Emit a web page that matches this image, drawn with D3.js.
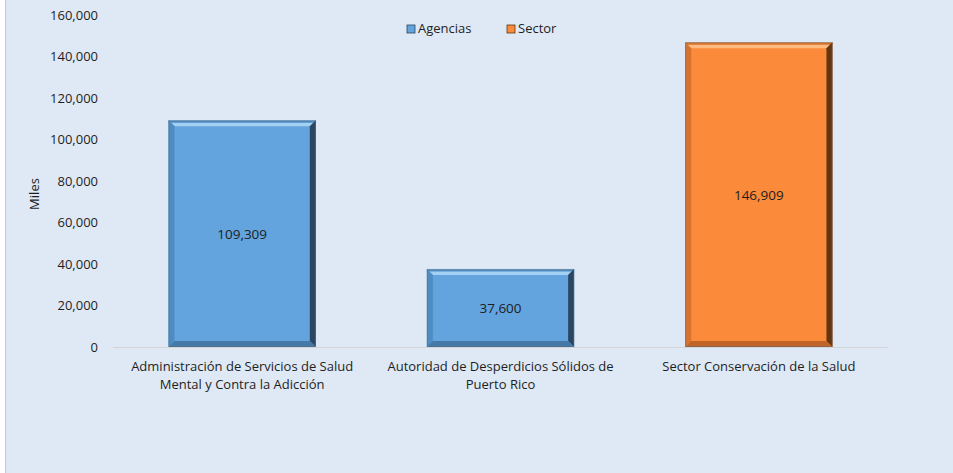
<!DOCTYPE html>
<html>
<head>
<meta charset="utf-8">
<script src="https://cdn.jsdelivr.net/npm/d3@7"></script>
<style>
  body { margin: 0; background: #ffffff; }
  text { font-family: "Open Sans", "Noto Sans", sans-serif; fill: #1e1e1e; }
</style>
</head>
<body>
<div id="chart-area"></div>
<script>
// Chart values
let categories = [
  ["Administración de Servicios de Salud", "Mental y Contra la Adicción"],
  ["Autoridad de Desperdicios Sólidos de", "Puerto Rico"],
  ["Sector Conservación de la Salud"]
];
let values = [109309, 37600, 146909];
let seriesOf = ["Agencias", "Agencias", "Sector"];
let legendItems = ["Agencias", "Sector"];
let yTicks = [0, 20000, 40000, 60000, 80000, 100000, 120000, 140000, 160000];

let width = 953, height = 473;

let colors = {
  Agencias: {fill: "#63a4de", light: "#a4d0f4", dark: "#2a4660", left: "#4f8cc2", bottom: "#4579a8"},
  Sector: {fill: "#fb8a3a", light: "#fdbb80", dark: "#633511", left: "#d8732e", bottom: "#c06527"}
};

let svg = d3.select("#chart-area")
  .append("svg")
  .attr("width", width)
  .attr("height", height);

// Background panel with thin left border
svg.append("rect")
  .attr("x", 6).attr("y", 0)
  .attr("width", width - 6).attr("height", height)
  .attr("fill", "#dee9f5");
svg.append("line")
  .attr("x1", 5.5).attr("x2", 5.5)
  .attr("y1", 0).attr("y2", height)
  .attr("stroke", "#c8c8c8").attr("stroke-width", 1);

// Scales
let x = d3.scaleBand()
  .domain(d3.range(values.length))
  .range([113, 888])
  .paddingInner(0.43)
  .paddingOuter(0.215);

let y = d3.scaleLinear()
  .domain([0, 160000])
  .range([347, 15]);

// Y axis (labels only)
let yAxis = d3.axisLeft(y)
  .tickValues(yTicks)
  .tickFormat(d3.format(","))
  .tickSize(0)
  .tickPadding(0);

let yAxisGroup = svg.append("g")
  .attr("transform", "translate(98,0)")
  .call(yAxis);
yAxisGroup.select(".domain").remove();
yAxisGroup.selectAll("text")
  .style("font-size", "13px")
  .style("font-family", "'Open Sans', sans-serif")
  .attr("fill", "#1e1e1e");

svg.append("text")
  .text("Miles")
  .attr("transform", "translate(39," + ((y(0) + y(160000)) / 2 + 13) + ") rotate(-90)")
  .attr("text-anchor", "middle")
  .style("font-size", "13px");

// Baseline
svg.append("line")
  .attr("x1", 113).attr("x2", 888)
  .attr("y1", y(0) + 0.5).attr("y2", y(0) + 0.5)
  .attr("stroke", "#d4d4d4");

// Bars with bevel edges
let bev = 6;
let bars = svg.selectAll(".bar")
  .data(values)
  .enter()
  .append("g")
  .attr("class", "bar");

bars.each(function(d, i) {
  let g = d3.select(this);
  let c = colors[seriesOf[i]];
  let x0 = x(i), x1 = x(i) + x.bandwidth();
  let y0 = y(d), y1 = y(0);
  g.append("rect")
    .attr("x", x0).attr("y", y0)
    .attr("width", x1 - x0).attr("height", y1 - y0)
    .attr("fill", c.fill);
  // top
  g.append("polygon")
    .attr("points", [[x0, y0], [x1, y0], [x1 - bev, y0 + bev], [x0 + bev, y0 + bev]].join(" "))
    .attr("fill", c.light);
  g.append("line")
    .attr("x1", x0).attr("x2", x1)
    .attr("y1", y0 + 1.5).attr("y2", y0 + 1.5)
    .attr("stroke", c.left).attr("stroke-width", 2);
  // left
  g.append("polygon")
    .attr("points", [[x0, y0], [x0 + bev, y0 + bev], [x0 + bev, y1 - bev], [x0, y1]].join(" "))
    .attr("fill", c.left);
  // right
  g.append("polygon")
    .attr("points", [[x1, y0], [x1, y1], [x1 - bev, y1 - bev], [x1 - bev, y0 + bev]].join(" "))
    .attr("fill", c.dark);
  // bottom
  g.append("polygon")
    .attr("points", [[x0, y1], [x1, y1], [x1 - bev, y1 - bev], [x0 + bev, y1 - bev]].join(" "))
    .attr("fill", c.bottom);
  g.append("rect")
    .attr("x", x0 + 0.5).attr("y", y0 + 0.5)
    .attr("width", x1 - x0 - 1).attr("height", y1 - y0 - 1)
    .attr("fill", "none")
    .attr("stroke", "#5a6a78").attr("stroke-opacity", 0.5);
});

// Value labels
svg.selectAll(".value-label")
  .data(values)
  .enter()
  .append("text")
  .attr("class", "value-label")
  .attr("x", (d, i) => x(i) + x.bandwidth() / 2)
  .attr("y", d => (y(d) + y(0)) / 2 + 5)
  .attr("text-anchor", "middle")
  .style("font-size", "13.5px")
  .text(d => d3.format(",")(d));

// Category labels
let catGroups = svg.selectAll(".cat-label")
  .data(categories)
  .enter()
  .append("text")
  .attr("class", "cat-label")
  .attr("text-anchor", "middle")
  .style("font-size", "13px");

catGroups.selectAll("tspan")
  .data((d, i) => d.map(line => ({line: line, i: i})))
  .enter()
  .append("tspan")
  .attr("x", d => x(d.i) + x.bandwidth() / 2)
  .attr("y", (d, j) => 371 + j * 18)
  .text(d => d.line);

// Legend
let legendX = [407, 507];
let legend = svg.selectAll(".legend")
  .data(legendItems)
  .enter()
  .append("g")
  .attr("class", "legend")
  .attr("transform", (d, i) => "translate(" + legendX[i] + ",25)");

legend.append("rect")
  .attr("width", 8).attr("height", 8)
  .attr("fill", d => colors[d].fill)
  .attr("stroke", d => colors[d].dark)
  .attr("stroke-width", 0.8);

legend.append("text")
  .attr("x", 11)
  .attr("y", 8)
  .style("font-size", "13px")
  .text(d => d);
</script>
</body>
</html>
